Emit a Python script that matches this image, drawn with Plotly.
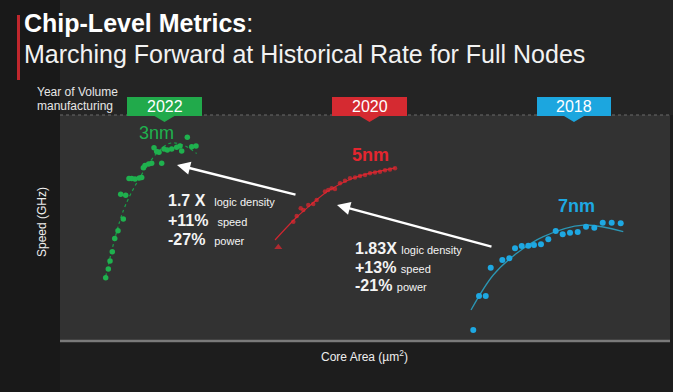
import plotly.graph_objects as go

# ---------------- data (arbitrary units: core area 0-100, speed 0-100) ----------------
n3_area = [7.49, 7.92, 8.20, 8.57, 8.97, 9.51, 10.38, 9.95, 10.77, 11.31, 11.75, 12.30, 13.00,
           13.39, 13.66, 13.93, 14.54, 15.03, 16.67, 15.41, 15.85, 16.23, 17.05, 17.59, 18.31,
           19.13, 19.67, 19.95, 20.87, 21.59, 22.30]
n3_speed = [28.0, 31.9, 35.4, 39.5, 45.4, 48.8, 54.0, 64.9, 64.5, 71.9, 71.9, 71.7, 72.1,
            72.3, 76.7, 77.6, 78.3, 78.6, 78.6, 85.5, 83.8, 83.5, 85.0, 84.5, 85.0,
            85.7, 86.3, 84.1, 90.1, 86.0, 86.3]
n3_fit_area = [7.49, 10.38, 13.11, 15.85, 18.03, 20.21, 22.40]
n3_fit_speed = [28.5, 57.7, 72.4, 83.0, 87.5, 86.7, 83.0]

n5_area = [35.79, 38.25, 38.80, 39.46, 39.89, 40.70, 41.52, 42.08, 43.44, 43.98, 44.54, 45.08,
           45.90, 46.72, 47.54, 48.36, 49.18, 50.00, 50.82, 51.64, 52.46, 53.28, 54.10, 54.92]
n5_speed = [41.5, 52.8, 55.3, 58.7, 58.0, 60.2, 60.6, 62.4, 66.1, 66.8, 67.6, 67.3,
            69.8, 70.9, 72.0, 72.4, 73.0, 73.5, 74.2, 74.6, 74.9, 75.5, 75.9, 76.4]
n5_fit_area = [35.25, 38.5, 41.0, 44.0, 48.0, 54.92]
n5_fit_speed = [44.7, 54.0, 60.0, 66.5, 72.0, 76.6]

n7_area = [67.75, 68.69, 69.79, 70.61, 72.51, 73.66, 74.59, 75.69, 76.77, 77.70, 78.85, 80.05,
           81.26, 82.41, 83.61, 84.87, 86.23, 87.59, 88.97, 90.44, 91.92]
n7_speed = [4.9, 19.9, 19.9, 32.4, 35.8, 36.6, 41.0, 42.0, 42.2, 42.5, 42.8, 45.0,
            48.7, 47.2, 47.9, 48.2, 50.6, 50.1, 52.3, 52.3, 52.1]
n7_fit_area = [67.38, 71.03, 74.87, 79.23, 85.79, 92.34]
n7_fit_speed = [13.7, 29.2, 38.8, 46.2, 51.3, 48.4]

node_labels = ["3nm", "5nm", "7nm"]
years = ["2022", "2020", "2018"]
gain_1 = ["1.7 X", "+11%", "-27%"]
gain_2 = ["1.83X", "+13%", "-21%"]
gain_words = ["logic density", "speed", "power"]

GREEN = "#1fb14e"
RED = "#e3262f"
BLUE = "#1ea8e2"

W, H = 673, 392
L, R, T, B = 60, 670, 115, 341


def px(x):
    return (x - L) / (R - L)


def py(y):
    return (B - y) / (B - T)


fig = go.Figure()

# trend lines
fig.add_trace(go.Scatter(x=n3_fit_area, y=n3_fit_speed, mode="lines", line_shape="spline",
                         line=dict(color="#18a048", width=1.2, dash="dot"), hoverinfo="skip"))
fig.add_trace(go.Scatter(x=n5_fit_area, y=n5_fit_speed, mode="lines", line_shape="spline",
                         line=dict(color="#d02630", width=1.2), hoverinfo="skip"))
fig.add_trace(go.Scatter(x=n7_fit_area, y=n7_fit_speed, mode="lines", line_shape="spline",
                         line=dict(color="#2b96b4", width=1.3), hoverinfo="skip"))

# points
fig.add_trace(go.Scatter(x=n3_area, y=n3_speed, mode="markers",
                         marker=dict(color=GREEN, size=5.5, line=dict(width=0))))
n5_symbols = ["triangle-up"] + ["circle"] * (len(n5_area) - 1)
n5_sizes = [7] + [4.5] * (len(n5_area) - 1)
fig.add_trace(go.Scatter(x=n5_area, y=n5_speed, mode="markers",
                         marker=dict(color=RED, size=n5_sizes, symbol=n5_symbols, line=dict(width=0))))
fig.add_trace(go.Scatter(x=n7_area, y=n7_speed, mode="markers",
                         marker=dict(color=BLUE, size=6, line=dict(width=0))))

shapes = []
# darker left strip and header band
shapes.append(dict(type="rect", xref="paper", yref="paper", x0=px(0), x1=px(L), y0=py(H), y1=py(0),
                   fillcolor="#191919", line=dict(width=0), layer="below"))
shapes.append(dict(type="rect", xref="paper", yref="paper", x0=px(L), x1=px(W), y0=py(T), y1=py(0),
                   fillcolor="#242424", line=dict(width=0), layer="below"))
# red accent bar
shapes.append(dict(type="rect", xref="paper", yref="paper", x0=px(17), x1=px(20), y0=py(80), y1=py(15),
                   fillcolor="#c0272d", line=dict(width=0)))
# dotted top border
shapes.append(dict(type="line", xref="paper", yref="paper", x0=0, x1=1, y0=1, y1=1,
                   line=dict(color="#6a6a6a", width=1.2, dash="dot")))
# bottom axis line
shapes.append(dict(type="line", xref="paper", yref="paper", x0=0, x1=1, y0=0, y1=0,
                   line=dict(color="#7a7a7a", width=2.5)))

# year badges
badges = [(127, 202, "#21aa4b"), (332, 407, "#d52a31"), (537, 611, "#1ca6df")]
for (x0, x1, col) in badges:
    cx = (x0 + x1) / 2
    yt, yb, tip = 97, 116, 122
    pts = [(x0, yt), (x1, yt), (x1, yb), (cx + 10, yb), (cx, tip), (cx - 10, yb), (x0, yb)]
    path = "M " + " L ".join(f"{px(a):.5f},{py(b):.5f}" for a, b in pts) + " Z"
    shapes.append(dict(type="path", xref="paper", yref="paper", path=path,
                       fillcolor=col, line=dict(width=0)))

annotations = []


def text(x, y, s, size, color="#ffffff", bold=False, xanchor="center", angle=0, family="Arial, Liberation Sans"):
    annotations.append(dict(xref="paper", yref="paper", x=px(x), y=py(y), text=(f"<b>{s}</b>" if bold else s),
                            showarrow=False, xanchor=xanchor, yanchor="middle", textangle=angle,
                            font=dict(size=size, color=color, family=family)))


text(22, 23, "Chip-Level Metrics<span style='font-weight:normal'>:</span>", 25, bold=True, xanchor="left")
text(22, 54, "Marching Forward at Historical Rate for Full Nodes", 25, color="#f2f2f2", xanchor="left")
text(35, 92, "Year of Volume", 12, color="#e6e6e6", xanchor="left")
text(35, 106, "manufacturing", 12, color="#e6e6e6", xanchor="left")

for (x0, x1, _), yr in zip(badges, years):
    text((x0 + x1) / 2, 107, yr, 16, color="#ffffff")

text(156, 133, node_labels[0], 18, color=GREEN)
text(370, 155, node_labels[1], 18, color=RED, bold=True)
text(576, 206, node_labels[2], 18, color=BLUE, bold=True)

text(42, 222, "Speed (GHz)", 12, color="#eeeeee", angle=-90)
text(364, 356, "Core Area (µm<sup>2</sup>)", 12, color="#eeeeee")

for i, yy in enumerate([200, 220, 239]):
    text(166, yy, f"<b>{gain_1[i]}</b>  <span style='font-size:11px'>{gain_words[i]}</span>", 16,
         color="#f4f4f4", xanchor="left")
for i, yy in enumerate([248, 267, 285]):
    text(353, yy, f"<b>{gain_2[i]}</b> <span style='font-size:11px'>{gain_words[i]}</span>", 16,
         color="#f4f4f4", xanchor="left")

# arrows (data coordinates)
for head, tail in [((19.18, 77.9), (38.85, 64.6)), ((45.41, 60.2), (70.98, 41.6))]:
    annotations.append(dict(xref="x", yref="y", axref="x", ayref="y", x=head[0], y=head[1],
                            ax=tail[0], ay=tail[1], text="", showarrow=True, arrowhead=2,
                            arrowsize=1.1, arrowwidth=2.4, arrowcolor="#ffffff"))

fig.update_layout(
    width=W, height=H,
    margin=dict(l=L, r=W - R, t=T, b=H - B, pad=0),
    paper_bgcolor="#1d1d1d",
    plot_bgcolor="#323232",
    showlegend=False,
    xaxis=dict(range=[0, 100], visible=False, fixedrange=True),
    yaxis=dict(range=[0, 100], visible=False, fixedrange=True),
    shapes=shapes,
    annotations=annotations,
    font=dict(family="Arial, Liberation Sans"),
)

fig.write_html("out.html", config={"displayModeBar": False},
               post_script="document.body.style.margin='0';document.body.style.background='#1d1d1d';")
